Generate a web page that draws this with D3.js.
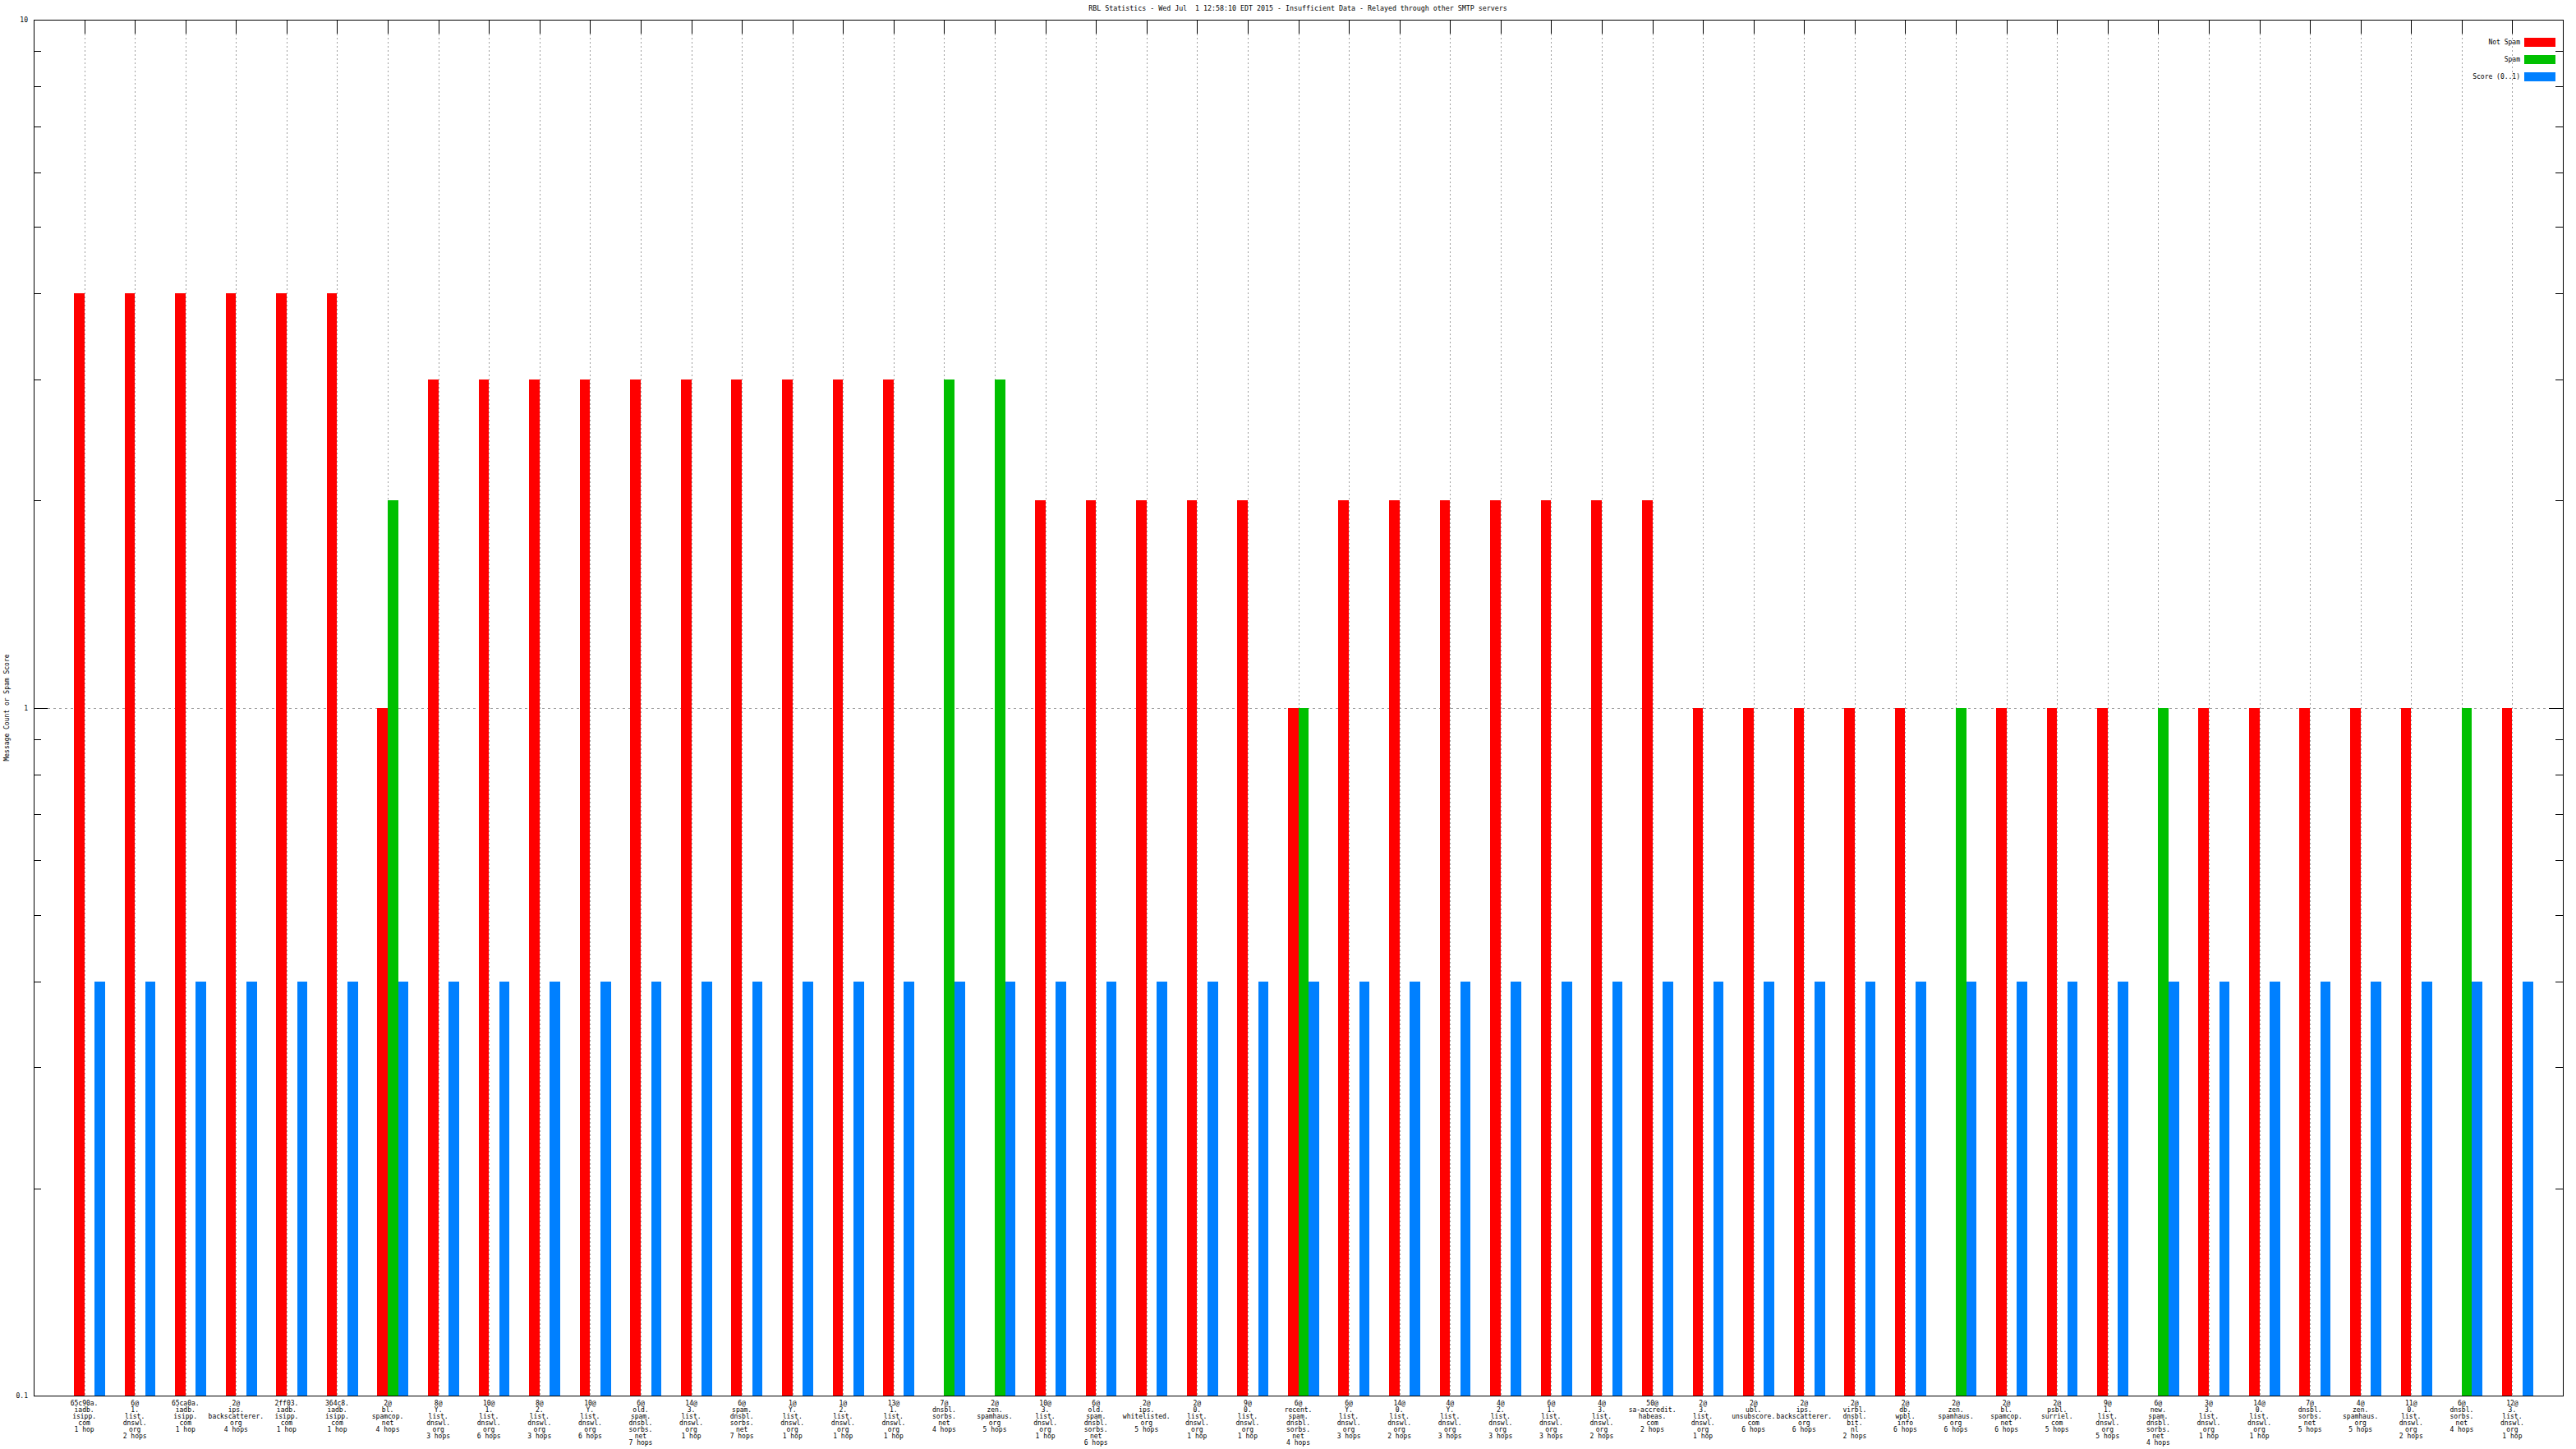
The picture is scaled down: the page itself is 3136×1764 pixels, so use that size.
<!DOCTYPE html>
<html>
<head>
<meta charset="utf-8">
<script src="https://cdn.jsdelivr.net/npm/d3@7"></script>
<style>
  html, body { margin: 0; padding: 0; background: #fff; }
  svg text { font-family: "DejaVu Sans Mono", "Liberation Mono", monospace; font-size: 8px; fill: #000; white-space: pre; }
</style>
</head>
<body>
<svg id="chart" width="3136" height="1764"></svg>
<script>
// ---------------- data ----------------
const titleText = "RBL Statistics - Wed Jul  1 12:58:10 EDT 2015 - Insufficient Data - Relayed through other SMTP servers";
const yAxisLabel = "Message Count or Spam Score";
const seriesNames = ["Not Spam", "Spam", "Score (0..1)"];
const seriesColors = ["#ff0000", "#00c000", "#0080ff"];

const categories = [
  "65c90a.\niadb.\nisipp.\ncom\n1 hop",
  "6@\n1.\nlist.\ndnswl.\norg\n2 hops",
  "65ca0a.\niadb.\nisipp.\ncom\n1 hop",
  "2@\nips.\nbackscatterer.\norg\n4 hops",
  "2ff03.\niadb.\nisipp.\ncom\n1 hop",
  "364c8.\niadb.\nisipp.\ncom\n1 hop",
  "2@\nbl.\nspamcop.\nnet\n4 hops",
  "8@\nY.\nlist.\ndnswl.\norg\n3 hops",
  "10@\n1.\nlist.\ndnswl.\norg\n6 hops",
  "8@\n2.\nlist.\ndnswl.\norg\n3 hops",
  "10@\nY.\nlist.\ndnswl.\norg\n6 hops",
  "6@\nold.\nspam.\ndnsbl.\nsorbs.\nnet\n7 hops",
  "14@\n3.\nlist.\ndnswl.\norg\n1 hop",
  "6@\nspam.\ndnsbl.\nsorbs.\nnet\n7 hops",
  "1@\nY.\nlist.\ndnswl.\norg\n1 hop",
  "1@\n2.\nlist.\ndnswl.\norg\n1 hop",
  "13@\n1.\nlist.\ndnswl.\norg\n1 hop",
  "7@\ndnsbl.\nsorbs.\nnet\n4 hops",
  "2@\nzen.\nspamhaus.\norg\n5 hops",
  "10@\n3.\nlist.\ndnswl.\norg\n1 hop",
  "6@\nold.\nspam.\ndnsbl.\nsorbs.\nnet\n6 hops",
  "2@\nips.\nwhitelisted.\norg\n5 hops",
  "2@\n0.\nlist.\ndnswl.\norg\n1 hop",
  "9@\n0.\nlist.\ndnswl.\norg\n1 hop",
  "6@\nrecent.\nspam.\ndnsbl.\nsorbs.\nnet\n4 hops",
  "6@\nY.\nlist.\ndnswl.\norg\n3 hops",
  "14@\n0.\nlist.\ndnswl.\norg\n2 hops",
  "4@\nY.\nlist.\ndnswl.\norg\n3 hops",
  "4@\n2.\nlist.\ndnswl.\norg\n3 hops",
  "6@\n1.\nlist.\ndnswl.\norg\n3 hops",
  "4@\n3.\nlist.\ndnswl.\norg\n2 hops",
  "50@\nsa-accredit.\nhabeas.\ncom\n2 hops",
  "2@\n3.\nlist.\ndnswl.\norg\n1 hop",
  "2@\nubl.\nunsubscore.\ncom\n6 hops",
  "2@\nips.\nbackscatterer.\norg\n6 hops",
  "2@\nvirbl.\ndnsbl.\nbit.\nnl\n2 hops",
  "2@\ndb.\nwpbl.\ninfo\n6 hops",
  "2@\nzen.\nspamhaus.\norg\n6 hops",
  "2@\nbl.\nspamcop.\nnet\n6 hops",
  "2@\npsbl.\nsurriel.\ncom\n5 hops",
  "9@\n1.\nlist.\ndnswl.\norg\n5 hops",
  "6@\nnew.\nspam.\ndnsbl.\nsorbs.\nnet\n4 hops",
  "3@\n3.\nlist.\ndnswl.\norg\n1 hop",
  "14@\n0.\nlist.\ndnswl.\norg\n1 hop",
  "7@\ndnsbl.\nsorbs.\nnet\n5 hops",
  "4@\nzen.\nspamhaus.\norg\n5 hops",
  "11@\n0.\nlist.\ndnswl.\norg\n2 hops",
  "6@\ndnsbl.\nsorbs.\nnet\n4 hops",
  "12@\n3.\nlist.\ndnswl.\norg\n1 hop"
];

const notSpam = [4,4,4,4,4,4,1,3,3,3,3,3,3,3,3,3,3,null,null,2,2,2,2,2,1,2,2,2,2,2,2,2,1,1,1,1,1,null,1,1,1,null,1,1,1,1,1,null,1];
const spam    = [null,null,null,null,null,null,2,null,null,null,null,null,null,null,null,null,null,3,3,null,null,null,null,null,1,null,null,null,null,null,null,null,null,null,null,null,null,1,null,null,null,1,null,null,null,null,null,1,null];
const score   = [0.4,0.4,0.4,0.4,0.4,0.4,0.4,0.4,0.4,0.4,0.4,0.4,0.4,0.4,0.4,0.4,0.4,0.4,0.4,0.4,0.4,0.4,0.4,0.4,0.4,0.4,0.4,0.4,0.4,0.4,0.4,0.4,0.4,0.4,0.4,0.4,0.4,0.4,0.4,0.4,0.4,0.4,0.4,0.4,0.4,0.4,0.4,0.4,0.4];

const yMajorTicks = [0.1, 1, 10];
const yTickLabels = ["0.1", "1", "10"];

// ---------------- layout ----------------
const svg = d3.select("#chart");
const L = 41, R = 3120, T = 24, B = 1699;
const n = categories.length;

const x = d3.scaleLinear().domain([-1, n]).range([L, R]);
const y = d3.scaleLog().domain([0.1, 10]).range([B, T]);
const barW = 0.205;              // width of one bar in category units
const offsets = [-1, 0, 1];      // red left of tick, green at tick, blue right

// minor ticks on the log axis
const minorTicks = [];
[0.1, 1].forEach(dec => { for (let k = 2; k <= 9; k++) minorTicks.push(dec * k); });

const g = svg.append("g").attr("shape-rendering", "crispEdges");

// vertical dotted grid
g.append("g").selectAll("line").data(d3.range(n)).join("line")
  .attr("x1", d => Math.round(x(d)) + 0.5).attr("x2", d => Math.round(x(d)) + 0.5)
  .attr("y1", T + 17).attr("y2", B)
  .attr("stroke", "#a0a0a0").attr("stroke-width", 1).attr("stroke-dasharray", "2,3");

// horizontal grid at major tick 1
g.append("line")
  .attr("x1", L + 17).attr("x2", R - 17)
  .attr("y1", Math.round(y(1)) + 0.5).attr("y2", Math.round(y(1)) + 0.5)
  .attr("stroke", "#a0a0a0").attr("stroke-width", 1).attr("stroke-dasharray", "3,4");

// bars
const series = [notSpam, spam, score];
series.forEach((vals, s) => {
  g.append("g").selectAll("rect")
    .data(vals.map((v, i) => ({ v, i })).filter(d => d.v != null))
    .join("rect")
    .attr("x", d => x(d.i + offsets[s] * barW))
    .attr("width", d => x(d.i + (offsets[s] + 1) * barW) - x(d.i + offsets[s] * barW))
    .attr("y", d => y(d.v))
    .attr("height", d => y(0.1) - y(d.v))
    .attr("fill", seriesColors[s]);
});

// frame
g.append("rect").attr("x", L + 0.5).attr("y", T + 0.5).attr("width", R - L).attr("height", B - T)
  .attr("fill", "none").attr("stroke", "#000").attr("stroke-width", 1);

// x ticks (top mirror)
g.append("g").selectAll("line").data(d3.range(n)).join("line")
  .attr("x1", d => Math.round(x(d)) + 0.5).attr("x2", d => Math.round(x(d)) + 0.5)
  .attr("y1", T).attr("y2", T + 17).attr("stroke", "#000");

// y ticks left and right
const yt = g.append("g");
yMajorTicks.forEach(v => {
  const yy = Math.round(y(v)) + 0.5;
  yt.append("line").attr("x1", L).attr("x2", L + 17).attr("y1", yy).attr("y2", yy).attr("stroke", "#000");
  yt.append("line").attr("x1", R - 17).attr("x2", R).attr("y1", yy).attr("y2", yy).attr("stroke", "#000");
});
minorTicks.forEach(v => {
  const yy = Math.round(y(v)) + 0.5;
  yt.append("line").attr("x1", L).attr("x2", L + 9).attr("y1", yy).attr("y2", yy).attr("stroke", "#000");
  yt.append("line").attr("x1", R - 9).attr("x2", R).attr("y1", yy).attr("y2", yy).attr("stroke", "#000");
});

// y tick labels
svg.append("g").selectAll("text").data(yMajorTicks).join("text")
  .attr("x", 34).attr("y", d => y(d) + 3)
  .attr("text-anchor", "end")
  .text((d, i) => yTickLabels[i]);

// x labels (multi-line)
const xl = svg.append("g");
categories.forEach((c, i) => {
  const t = xl.append("text").attr("text-anchor", "middle");
  c.split("\n").forEach((line, j) => {
    t.append("tspan").attr("x", x(i)).attr("y", 1711 + j * 8).text(line);
  });
});

// title
svg.append("text").attr("x", 1580).attr("y", 13).attr("text-anchor", "middle")
  .style("font-size", "8.3px").text(titleText);

// y axis label
svg.append("text").attr("transform", `translate(11,${(T + B) / 2}) rotate(-90)`)
  .attr("text-anchor", "middle").text(yAxisLabel);

// legend
const lg = svg.append("g");
seriesNames.forEach((name, s) => {
  const cy = 51 + s * 21;
  lg.append("text").attr("x", 3068).attr("y", cy + 3).attr("text-anchor", "end").text(name);
  lg.append("rect").attr("x", 3073).attr("y", cy - 5).attr("width", 38).attr("height", 11)
    .attr("fill", seriesColors[s]);
});
</script>
</body>
</html>
